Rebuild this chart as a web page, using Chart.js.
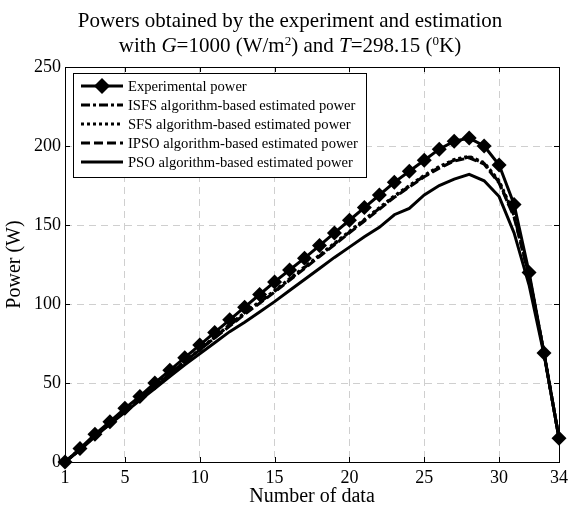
<!DOCTYPE html>
<html>
<head>
<meta charset="utf-8">
<script src="https://cdn.jsdelivr.net/npm/chart.js@4.4.1/dist/chart.umd.min.js"></script>
<style>
  html, body { margin: 0; padding: 0; background: #fff; }
</style>
</head>
<body>
<canvas id="myChart" width="573" height="510"></canvas>
<script>
// data
const sampleNo = [1,2,3,4,5,6,7,8,9,10,11,12,13,14,15,16,17,18,19,20,21,22,23,24,25,26,27,28,29,30,31,32,33,34];
const xTickValues = [1, 5, 10, 15, 20, 25, 30, 34];
const expPower  = [0,8.5,17.5,25.5,34,41.5,50,58,66,74,82,90,98,106,114,121.5,129,137,145,153,161,169,177,184,191,198,203,205,200,188,163,120,69,15];
const isfsPower = [0,8,16.5,24.5,32.5,40,48,55.5,63.5,71,79,86.5,94,101,108,115.5,123,130.5,138,145.5,153,160.5,168,174.5,181,186.5,191,193,189,177,156,118,69,15];
const sfsPower  = [0,8,16.5,24.5,32.5,40.5,48,56,63.5,71.5,79,87,94.5,101.5,108.5,116,123.5,131,138.5,146,153.5,161,168.5,175,181.5,187,191.5,193.5,189.5,178,157,118.5,69,15];
const ipsoPower = [0,8,16.5,24,32,40,47.5,55.5,63,71,78.5,86,93.5,100.5,107.5,115,122.5,130,137.5,145,152.5,160,167.5,174,180.5,186,190.5,192.5,188.5,176.5,155,117.5,69,15];
const psoPower  = [0,7.5,16,24,31.5,39,46.5,54,61.5,68.5,75.5,82.5,88.5,95,101.5,108.5,115.5,122.5,129.5,136,142.5,148.5,156.5,160.5,169,175,179,182,178,168,145,112,68,15];
const seriesNames = [
  'Experimental power',
  'ISFS algorithm-based estimated power',
  'SFS algorithm-based estimated power',
  'IPSO algorithm-based estimated power',
  'PSO algorithm-based estimated power'
];

const SERIF = '"Liberation Serif", "Times New Roman", serif';
const ctx = document.getElementById('myChart').getContext('2d');

function pts(vals) {
  return vals.map((v, i) => ({ x: sampleNo[i], y: v }));
}

const dashes = [[], [9, 3, 3, 3], [3, 3], [9, 4], []];

// title with italic symbols and superscripts
const titlePlugin = {
  id: 'twoLineTitle',
  afterDraw(chart) {
    const c = chart.ctx;
    const cx = 290;
    c.save();
    c.fillStyle = '#000';
    c.textBaseline = 'alphabetic';
    c.font = '21px ' + SERIF;
    c.textAlign = 'center';
    c.fillText('Powers obtained by the experiment and estimation', cx, 27);
    const parts = [
      ['with ', 'n'], ['G', 'i'], ['=1000 (W/m', 'n'], ['2', 's'], [') and ', 'n'],
      ['T', 'i'], ['=298.15 (', 'n'], ['0', 's'], ['K)', 'n']
    ];
    const fontOf = s => s === 'i' ? 'italic 21px ' + SERIF : (s === 's' ? '13px ' + SERIF : '21px ' + SERIF);
    let w = 0;
    parts.forEach(p => { c.font = fontOf(p[1]); w += c.measureText(p[0]).width; });
    let x = cx - w / 2;
    c.textAlign = 'left';
    parts.forEach(p => {
      c.font = fontOf(p[1]);
      c.fillText(p[0], x, p[1] === 's' ? 45 : 52);
      x += c.measureText(p[0]).width;
    });
    c.restore();
  }
};

// box around the plot and inward tick marks
const framePlugin = {
  id: 'frame',
  afterDatasetsDraw(chart) {
    const a = chart.chartArea;
    const c = chart.ctx;
    const xs = chart.scales.x, ys = chart.scales.y;
    c.save();
    c.strokeStyle = '#000';
    c.lineWidth = 1;
    c.setLineDash([]);
    c.strokeRect(a.left + 0.5, a.top + 0.5, a.right - a.left, a.bottom - a.top);
    c.beginPath();
    xTickValues.forEach(v => {
      const px = Math.round(xs.getPixelForValue(v)) + 0.5;
      c.moveTo(px, a.bottom); c.lineTo(px, a.bottom - 5);
      c.moveTo(px, a.top); c.lineTo(px, a.top + 5);
    });
    ys.ticks.forEach(t => {
      const py = Math.round(ys.getPixelForValue(t.value)) + 0.5;
      c.moveTo(a.left, py); c.lineTo(a.left + 5, py);
      c.moveTo(a.right, py); c.lineTo(a.right - 5, py);
    });
    c.stroke();
    c.restore();
  }
};

// legend inside the plot, top left
const legendPlugin = {
  id: 'boxLegend',
  afterDraw(chart) {
    const c = chart.ctx;
    const bx = 73, by = 73, bw = 293, bh = 104;
    c.save();
    c.fillStyle = '#fff';
    c.fillRect(bx, by, bw, bh);
    c.strokeStyle = '#000';
    c.lineWidth = 1;
    c.strokeRect(bx + 0.5, by + 0.5, bw, bh);
    chart.data.datasets.forEach((ds, i) => {
      const y = 86 + i * 19;
      c.setLineDash(ds.borderDash || []);
      c.lineWidth = ds.borderWidth;
      c.strokeStyle = '#000';
      c.beginPath();
      c.moveTo(81, y); c.lineTo(123, y);
      c.stroke();
      c.setLineDash([]);
      if (i === 0) {
        c.fillStyle = '#000';
        c.beginPath();
        c.moveTo(102, y - 8); c.lineTo(110, y); c.lineTo(102, y + 8); c.lineTo(94, y);
        c.closePath();
        c.fill();
      }
      c.fillStyle = '#000';
      c.font = '14.6px ' + SERIF;
      c.textBaseline = 'middle';
      c.textAlign = 'left';
      c.fillText(ds.label, 128, y + 1);
    });
    c.restore();
  }
};

const allSeries = [expPower, isfsPower, sfsPower, ipsoPower, psoPower];

const myChart = new Chart(ctx, {
  type: 'line',
  data: {
    datasets: allSeries.map((vals, i) => ({
      label: seriesNames[i],
      data: pts(vals),
      borderColor: '#000',
      backgroundColor: '#000',
      borderWidth: 3,
      borderDash: dashes[i],
      pointStyle: i === 0 ? 'rectRot' : 'circle',
      pointRadius: i === 0 ? 7.5 : 0,
      pointBorderWidth: 0,
      pointHoverRadius: 0,
      tension: 0,
      fill: false,
      clip: i === 0 ? false : 4,
      order: 5 - i
    }))
  },
  options: {
    responsive: false,
    animation: false,
    devicePixelRatio: 1,
    layout: { padding: { top: 67, right: 8, left: 0, bottom: 0 } },
    plugins: {
      legend: { display: false },
      tooltip: { enabled: false },
      title: { display: false }
    },
    scales: {
      x: {
        type: 'linear',
        min: 1,
        max: 34,
        afterBuildTicks: s => { s.ticks = xTickValues.map(v => ({ value: v })); },
        afterFit: s => { s.height = 48; },
        grid: { color: '#cfcfcf', lineWidth: 1, drawTicks: false },
        border: { display: false, dash: [7, 5] },
        ticks: { color: '#000', font: { family: SERIF, size: 18 }, padding: 5, maxRotation: 0, autoSkip: false },
        title: { display: true, text: 'Number of data', color: '#000', font: { family: SERIF, size: 20 }, padding: { top: 0, bottom: 1 } }
      },
      y: {
        min: 0,
        max: 250,
        afterFit: s => { s.width = 65; },
        grid: { color: '#cfcfcf', lineWidth: 1, drawTicks: false },
        border: { display: false, dash: [7, 5] },
        ticks: { stepSize: 50, color: '#000', font: { family: SERIF, size: 18 }, padding: 4 },
        title: { display: true, text: 'Power (W)', color: '#000', font: { family: SERIF, size: 20 }, padding: { top: 3, bottom: 0 } }
      }
    }
  },
  plugins: [framePlugin, titlePlugin, legendPlugin]
});
</script>
</body>
</html>
